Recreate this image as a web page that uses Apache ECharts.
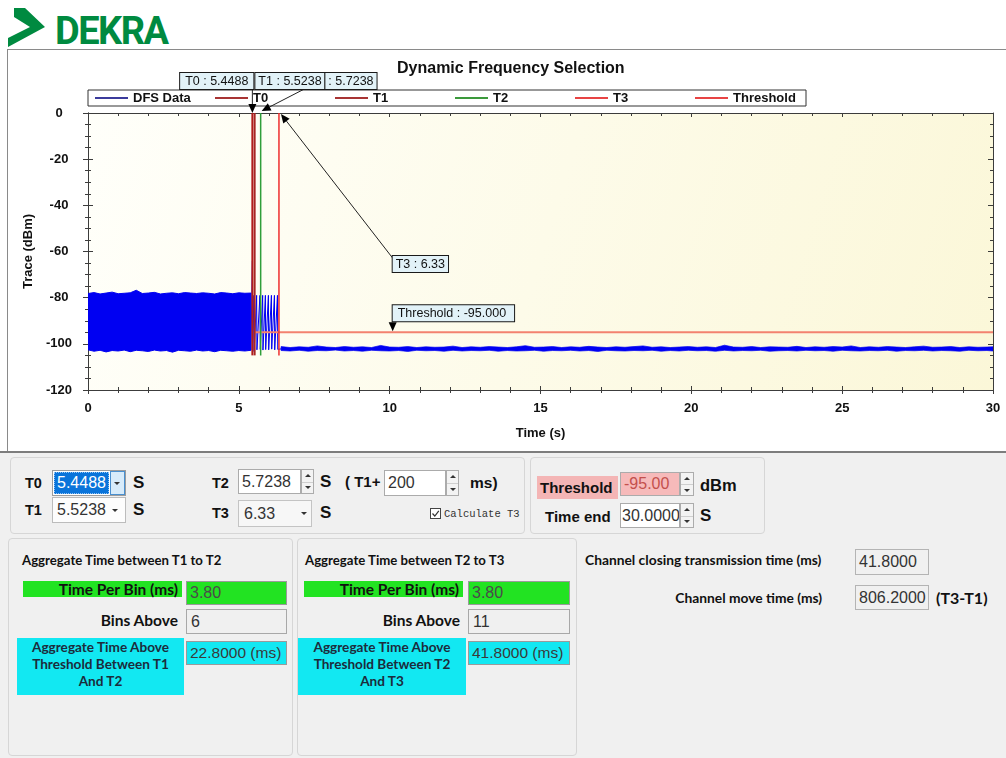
<!DOCTYPE html>
<html><head><meta charset="utf-8">
<script src="https://cdn.jsdelivr.net/npm/echarts@6.0.0/dist/echarts.min.js"></script>
<style>
html,body{margin:0;padding:0;width:1006px;height:758px;overflow:hidden;background:#fff;}
.abs{position:absolute;}
</style></head>
<body>
<svg class="abs" style="left:0;top:0" width="220" height="49">
  <polygon points="14,8 25,8 45,27 8,47 8,38 30,27 14,17" fill="#008a40"/>
  <text x="55" y="44" font-family="Roboto, 'Liberation Sans', sans-serif" font-weight="700" font-size="38" fill="#008a40" letter-spacing="-1.5">DEKRA</text>
</svg>
<div class="abs" style="left:7px;top:49px;width:999px;height:1px;background:#8a8a8a"></div>
<div class="abs" style="left:7px;top:49px;width:1px;height:403px;background:#8a8a8a"></div>
<div id="chart" class="abs" style="left:8px;top:50px;width:998px;height:401px;"></div>
<div class="abs" style="left:0;top:451px;width:1006px;height:2px;background:#7d7d7d"></div>
<div class="abs" style="left:0;top:453px;width:1006px;height:305px;background:#f0f0f0"></div>
<script>
// ---------------- DATA ----------------
const markerNames = ['T0', 'T1', 'T2', 'T3'];
const markerTimes = [5.4488, 5.5238, 5.7238, 6.33];
const markerLabels = ['T0 : 5.4488', 'T1 : 5.5238', ': 5.7238', 'T3 : 6.33'];
const markerSpan = [0, -105];
const thresholdValue = -95;
const thresholdLabel = 'Threshold : -95.000';
const timeEnd = 30;
const annoT3Pos = [10.1, -62];
const annoThrTime = 10.1;

// dense trace before T0: envelope of the noise band
const bandTime = [0, 0.2, 0.4, 0.6, 0.8, 1.0, 1.2, 1.4, 1.6, 1.8,
  2.0, 2.2, 2.4, 2.6, 2.8, 3.0, 3.2, 3.4, 3.6, 3.8,
  4.0, 4.2, 4.4, 4.6, 4.8, 5.0, 5.2, 5.4];
const bandTop = [-78.2, -77.8, -78.4, -78.0, -77.6, -78.3, -78.1, -77.9, -76.8, -78.2,
  -78.0, -77.7, -78.4, -78.1, -77.9, -78.3, -77.8, -78.0, -78.2, -77.9,
  -78.1, -78.4, -77.8, -78.0, -78.3, -77.9, -78.1, -78.0];
const bandBottom = [-102.6, -103.2, -102.8, -103.5, -102.9, -103.1, -102.7, -103.4, -102.8, -103.0,
  -103.3, -102.7, -103.1, -102.9, -103.6, -102.8, -103.0, -103.2, -102.7, -103.1,
  -102.9, -103.4, -102.8, -103.0, -103.2, -102.9, -103.1, -102.8];

// pulses between T0 and T3
const pulseTime = [5.40, 5.45, 5.46, 5.50, 5.51, 5.59, 5.60, 5.70, 5.71, 5.79, 5.80,
  5.88, 5.89, 5.98, 5.99, 6.08, 6.09, 6.18, 6.19, 6.28, 6.29, 6.40];
const pulseValue = [-102.8, -64, -103.5, -79, -103, -79, -102.6, -79, -102.4, -79, -102.7,
  -79, -102.5, -79, -102.6, -79, -102.3, -79, -102.6, -79, -102.4, -102.2];

// noise floor after T3: envelope
const tailTime = [6.4, 6.7, 7.0, 7.3, 7.6, 7.9, 8.2, 8.5, 8.8, 9.1,
  9.4, 9.7, 10.0, 10.3, 10.6, 10.9, 11.2, 11.5, 11.8, 12.1,
  12.4, 12.7, 13.0, 13.3, 13.6, 13.9, 14.2, 14.5, 14.8, 15.1,
  15.4, 15.7, 16.0, 16.3, 16.6, 16.9, 17.2, 17.5, 17.8, 18.1,
  18.4, 18.7, 19.0, 19.3, 19.6, 19.9, 20.2, 20.5, 20.8, 21.1,
  21.4, 21.7, 22.0, 22.3, 22.6, 22.9, 23.2, 23.5, 23.8, 24.1,
  24.4, 24.7, 25.0, 25.3, 25.6, 25.9, 26.2, 26.5, 26.8, 27.1,
  27.4, 27.7, 28.0, 28.3, 28.6, 28.9, 29.2, 29.5, 29.8, 30.0];
const tailTop = [-101.2, -101.6, -101.3, -101.5, -100.9, -101.4, -101.6, -101.2, -101.5, -101.3,
  -101.6, -100.7, -101.4, -101.5, -101.2, -101.6, -101.3, -101.5, -101.4, -101.0,
  -101.6, -101.3, -101.5, -101.2, -101.4, -101.6, -101.3, -100.8, -101.5, -101.4,
  -101.2, -101.6, -101.3, -101.5, -101.1, -101.4, -101.6, -101.3, -101.5, -101.2,
  -100.9, -101.5, -101.3, -101.6, -101.4, -101.2, -101.5, -101.3, -101.6, -100.6,
  -101.4, -101.5, -101.2, -101.6, -101.3, -101.4, -101.5, -101.1, -101.6, -101.3,
  -101.5, -101.2, -101.4, -100.9, -101.6, -101.3, -101.5, -101.2, -101.4, -101.6,
  -101.3, -101.0, -101.5, -101.4, -101.2, -101.6, -101.3, -101.5, -101.4, -101.3];
const tailBottom = [-102.9, -103.1, -102.8, -103.2, -102.9, -103.0, -102.7, -103.1, -102.9, -103.2,
  -102.8, -103.0, -103.1, -102.9, -103.3, -102.8, -103.0, -102.9, -103.2, -102.8,
  -103.1, -102.9, -103.0, -102.8, -103.2, -102.9, -103.1, -103.0, -102.8, -103.2,
  -102.9, -103.0, -102.8, -103.1, -102.9, -103.3, -102.8, -103.0, -103.1, -102.9,
  -103.0, -102.8, -103.2, -102.9, -103.1, -102.8, -103.0, -102.9, -103.2, -102.8,
  -103.1, -102.9, -103.0, -102.8, -103.2, -103.0, -102.9, -103.1, -102.8, -103.0,
  -102.9, -103.2, -102.8, -103.0, -103.1, -102.9, -103.0, -102.8, -103.2, -102.9,
  -103.0, -102.8, -103.1, -102.9, -103.0, -103.2, -102.8, -103.0, -102.9, -103.1];

// panel values
const timePerBin = ['3.80', '3.80'];
const binsAbove = ['6', '11'];
const aggTime = ['22.8000 (ms)', '41.8000 (ms)'];
const closingTime = '41.8000';
const moveTime = '806.2000';
const t1Plus = '200';
const thresholdField = '-95.00';
const timeEndField = '30.0000';

// ---------------- STYLE ----------------
const ARIAL = '"Liberation Sans", Arial, sans-serif';
const LATO = 'Lato, "Open Sans", sans-serif';
const markerColors = ['#b01c1c', '#a82424', '#2f9e3a', '#ee2e2e'];
const markerWidths = [2, 2, 1.5, 1.5];
const legendColors = {'DFS Data': '#3b3b9c', 'T0': '#a83434', 'T1': '#a83434', 'T2': '#3c9a3c', 'T3': '#e84444', 'Threshold': '#e84444'};
const BLUE = '#0000f2';
const AX = '#3c3c3c';

function pairs(xs, ys) { return xs.map((x, i) => [x, ys[i]]); }

const axisFont = {fontFamily: ARIAL, fontWeight: 'bold', fontSize: 13, color: '#111'};
function mkX(position, inside, labels) {
  return {
    type: 'value', min: 0, max: timeEnd, interval: 5, position: position,
    splitLine: {show: false},
    axisLine: {show: true, onZero: false, lineStyle: {color: AX, width: 1}},
    axisTick: {show: true, inside: inside, length: 4, lineStyle: {color: AX}},
    minorTick: {show: true, splitNumber: 5, length: 3, lineStyle: {color: AX}},
    axisLabel: Object.assign({show: labels, margin: 12}, axisFont),
    name: labels ? 'Time (s)' : '', nameLocation: 'middle', nameGap: 37,
    nameTextStyle: axisFont
  };
}
function mkY(position, inside, labels) {
  return {
    type: 'value', min: -120, max: 0, interval: 20, position: position,
    splitLine: {show: false},
    axisLine: {show: true, onZero: false, lineStyle: {color: AX, width: 1}},
    axisTick: {show: true, inside: inside, length: 5, lineStyle: {color: AX}},
    minorTick: {show: true, splitNumber: 4, length: 3, lineStyle: {color: AX}},
    axisLabel: Object.assign({show: labels, margin: 29, align: 'center'}, axisFont),
    name: labels ? 'Trace (dBm)' : '', nameLocation: 'middle', nameGap: 52,
    nameTextStyle: axisFont
  };
}

function bandSeries(name, times, top, bottom, strokeW) {
  return {
    type: 'custom', name: name, xAxisIndex: 0, yAxisIndex: 0, silent: true, animation: false, z: 2, clip: true,
    data: times.map((t, i) => [t, top[i], bottom[i]]),
    encode: {x: 0, y: [1, 2]},
    renderItem: function (params, api) {
      if (params.dataIndex !== 0) return null;
      const pts = [];
      for (let i = 0; i < times.length; i++) pts.push(api.coord([times[i], top[i]]));
      for (let i = times.length - 1; i >= 0; i--) pts.push(api.coord([times[i], bottom[i]]));
      return {type: 'polygon', shape: {points: pts}, style: {fill: BLUE, stroke: BLUE, lineWidth: strokeW}};
    }
  };
}

const chart = echarts.init(document.getElementById('chart'));
const lineBase = {type: 'line', symbol: 'none', silent: true, animation: false, xAxisIndex: 0, yAxisIndex: 0};
const series = [
  Object.assign({}, lineBase, {name: 'DFS Data', data: pairs(pulseTime, pulseValue), lineStyle: {color: BLUE, width: 1}, itemStyle: {color: BLUE}, z: 3}),
  bandSeries('DFS band before T0', bandTime, bandTop, bandBottom, 1),
  bandSeries('DFS band after T3', tailTime, tailTop, tailBottom, 0.7)
];
markerNames.forEach((n, i) => {
  series.push(Object.assign({}, lineBase, {
    name: n, data: [[markerTimes[i], markerSpan[0]], [markerTimes[i], markerSpan[1]]],
    lineStyle: {color: markerColors[i], width: markerWidths[i]}, itemStyle: {color: markerColors[i]}, z: 4
  }));
});
series.push(Object.assign({}, lineBase, {
  name: 'Threshold', data: [[markerTimes[1], thresholdValue], [timeEnd, thresholdValue]],
  lineStyle: {color: '#f3826f', width: 2}, itemStyle: {color: '#f3826f'}, z: 3
}));

const legendNames = ['DFS Data'].concat(markerNames, ['Threshold']);
chart.setOption({
  animation: false,
  title: {text: 'Dynamic Frequency Selection', left: 389, top: 11, padding: 0,
    textStyle: {fontFamily: ARIAL, fontWeight: 'bold', fontSize: 16, color: '#111'}},
  legend: {
    left: 80, top: 40, orient: 'horizontal',
    data: legendNames.map(n => ({name: n, icon: 'rect', itemStyle: {color: legendColors[n]}})),
    itemWidth: 33, itemHeight: 2, itemGap: 10,
    padding: [1, 1, 1, 7],
    backgroundColor: '#fff', borderColor: '#333', borderWidth: 1, borderRadius: 0,
    textStyle: {fontFamily: ARIAL, fontWeight: 'bold', fontSize: 13, color: '#111', width: 72, lineHeight: 14},
    selectedMode: false
  },
  grid: {left: 80, top: 63, right: 13, bottom: 61, show: true, borderWidth: 0,
    backgroundColor: new echarts.graphic.LinearGradient(0, 0, 1, 1, [{offset: 0, color: '#fffffa'}, {offset: 1, color: '#fbf7d8'}])},
  xAxis: [mkX('bottom', false, true), mkX('bottom', true, false), mkX('top', true, false)],
  yAxis: [mkY('left', false, true), mkY('left', true, false), mkY('right', true, false)],
  series: series
});

function drawAnnotations() {
  const P = (t, v) => chart.convertToPixel({xAxisIndex: 0, yAxisIndex: 0}, [t, v]);
  const els = [];
  const font = '12.5px "Liberation Sans", Arial, sans-serif';
  const box = (x, y, text, align, valign, pad) => ({type: 'text', x: x, y: y, z: 50,
    style: {text: text, font: font, fill: '#111', backgroundColor: '#e2f2f8', borderColor: '#1a1a1a', borderWidth: 1,
      padding: pad || [2, 3, 1, 3], align: align, verticalAlign: valign}});
  const arrow = (fx, fy, tx, ty) => {
    const dx = tx - fx, dy = ty - fy, L = Math.hypot(dx, dy), ux = dx / L, uy = dy / L, hl = 9, hw = 4;
    const bx = tx - ux * hl, by = ty - uy * hl;
    els.push({type: 'line', z: 49, shape: {x1: fx, y1: fy, x2: bx, y2: by}, style: {stroke: '#222', lineWidth: 1}});
    els.push({type: 'polygon', z: 49, shape: {points: [[tx, ty], [bx - uy * hw, by + ux * hw], [bx + uy * hw, by - ux * hw]]}, style: {fill: '#000'}});
  };
  const a0 = P(markerTimes[0], markerSpan[0]);
  const topY = a0[1] - 24;
  arrow(a0[0], topY, a0[0], a0[1]);
  els.push(box(a0[0] + 1, topY, markerLabels[0], 'right', 'bottom', [2, 5, 1, 5]));
  els.push(box(a0[0] + 3, topY, markerLabels[1], 'left', 'bottom'));
  els.push(box(a0[0] + 73, topY, markerLabels[2], 'left', 'bottom'));
  const a2 = P(markerTimes[2], markerSpan[0]);
  arrow(a0[0] + 52, topY, a2[0] + 1, a2[1] - 2);
  const a3 = P(markerTimes[3], markerSpan[0]);
  const l3 = P(annoT3Pos[0], annoT3Pos[1]);
  arrow(l3[0], l3[1] + 2, a3[0] + 2, a3[1] + 1);
  els.push(box(l3[0], l3[1], markerLabels[3], 'left', 'top'));
  const lt = P(annoThrTime, thresholdValue);
  arrow(lt[0], lt[1] - 11, lt[0], lt[1] - 1);
  els.push(box(lt[0], lt[1] - 11, thresholdLabel, 'left', 'bottom', [2, 8, 1, 5]));
  chart.setOption({graphic: {elements: els}});
}
drawAnnotations();

// ---------------- CONTROL PANEL (HTML) ----------------
const B = document.body;
function el(css, html) {
  const d = document.createElement('div');
  d.style.cssText = 'position:absolute;' + css;
  if (html != null) d.innerHTML = html;
  B.appendChild(d); return d;
}
function txt(x, yc, s, size, o) {
  o = o || {};
  return el(`left:${x}px;top:${yc - 12}px;height:24px;line-height:24px;white-space:nowrap;font-family:${o.fam || ARIAL};font-size:${size}px;font-weight:${o.w || 700};color:${o.c || '#111'};`, s);
}
function txtR(xr, yc, s, size, o) {
  o = o || {};
  return el(`left:${xr - 500}px;width:500px;text-align:right;top:${yc - 12}px;height:24px;line-height:24px;white-space:nowrap;font-family:${o.fam || ARIAL};font-size:${size}px;font-weight:${o.w || 700};color:${o.c || '#111'};`, s);
}
function field(x, y, w, h, s, o) {
  o = o || {};
  return el(`left:${x}px;top:${y}px;width:${w}px;height:${h}px;box-sizing:border-box;border:1px solid ${o.bc || '#ababab'};background:${o.bg || '#fff'};overflow:hidden;white-space:nowrap;font-family:${ARIAL};font-size:${o.fs || 16}px;color:${o.c || '#333'};line-height:${h - 2}px;padding-left:${o.pl || 3}px;`, s);
}
function spin(x, y, w, h, bg) {
  el(`left:${x}px;top:${y}px;width:${w}px;height:${h}px;box-sizing:border-box;border:1px solid #acacac;background:${bg || '#f3f3f3'};`);
  el(`left:${x + 1}px;top:${y + Math.round(h / 2)}px;width:${w - 2}px;height:1px;background:#cfcfcf`);
  const cx = x + w / 2;
  el(`left:${cx - 3}px;top:${y + h / 4 - 1.5}px;width:0;height:0;border-left:3px solid transparent;border-right:3px solid transparent;border-bottom:3px solid #333;`);
  el(`left:${cx - 3}px;top:${y + 3 * h / 4 - 1.5}px;width:0;height:0;border-left:3px solid transparent;border-right:3px solid transparent;border-top:3px solid #333;`);
}
function downTri(cx, cy) {
  el(`left:${cx - 3.5}px;top:${cy - 1.5}px;width:0;height:0;border-left:3.5px solid transparent;border-right:3.5px solid transparent;border-top:3.5px solid #333;`);
}
function group(x, y, w, h) {
  el(`left:${x}px;top:${y}px;width:${w}px;height:${h}px;box-sizing:border-box;border:1px solid #d6d6d6;border-radius:4px;`);
}
const GREEN = '#22e322', CYAN = '#12e8f2', PINK = '#f4b5b5';

// Box A
group(10, 457, 515, 77);
txt(25, 483, markerNames[0], 14.5);
field(52, 470, 74, 26, '', {bc: '#9c9c9c'});
el(`left:54px;top:472px;width:55px;height:22px;box-sizing:border-box;background:#0a74da;color:#fff;font-family:${ARIAL};font-size:16px;line-height:20px;padding-left:2px;border:1px dotted #8fc3f5;`, markerTimes[0].toFixed(4));
el('left:110px;top:471px;width:15px;height:24px;box-sizing:border-box;background:#d7ebfa;border:1px solid #4a90d0;');
downTri(117.5, 483);
txt(133, 483, 'S', 17);
txt(25, 510, markerNames[1], 14.5);
field(52, 497, 74, 26, markerTimes[1].toFixed(4), {bc: '#bcbcbc', bg: '#fdfdfd', pl: 4});
downTri(115.5, 510);
txt(133, 510, 'S', 17);
txt(212, 483, markerNames[2], 14.5);
field(238, 469, 63, 25, markerTimes[2].toFixed(4));
spin(301, 469, 13, 25);
txt(320, 482, 'S', 17);
txt(345, 482, '( T1+', 15);
field(384, 470, 62, 26, t1Plus);
spin(446, 470, 13, 26);
txt(470, 483, 'ms)', 15.5);
txt(212, 513, markerNames[3], 14.5);
field(238, 500, 74, 27, String(markerTimes[3]), {bg: '#f7f7f7', bc: '#c4c4c4', pl: 5});
downTri(304, 513.5);
txt(320, 513, 'S', 17);
el('left:430px;top:508px;width:11px;height:11px;box-sizing:border-box;border:1px solid #444;background:#fff;',
  '<svg width="9" height="9" style="position:absolute;left:0;top:0"><polyline points="1.5,4.5 3.8,7 7.8,1.8" fill="none" stroke="#333" stroke-width="1.2"/></svg>');
txt(444, 514, 'Calculate T3', 10.5, {fam: '"Liberation Mono", "DejaVu Sans Mono", monospace', w: 400, c: '#333'});

// Box B
group(530, 457, 235, 77);
el(`left:537px;top:476px;width:81px;height:23px;background:${PINK};`);
txt(540, 487.5, 'Threshold', 15);
field(620, 472, 60, 24, thresholdField, {bg: '#f6baba', c: '#c4504c'});
spin(680, 472, 14, 24);
txt(700, 485, 'dBm', 16.5);
txt(545, 517, 'Time end', 15);
field(620, 503, 60, 25, timeEndField, {pl: 1});
spin(680, 503, 14, 25);
txt(700, 516, 'S', 17);

// Box C and D
function aggGroup(gx, gw, lblL, lblW, cyL, cyW, fx, fw, pair, idx) {
  group(gx, 538, gw, 218);
  txt(gx + (idx === 0 ? 14 : 8), 559.5, 'Aggregate Time between ' + pair[0] + ' to ' + pair[1], 13.2, {fam: LATO});
  el(`left:${lblL}px;top:581px;width:${lblW}px;height:16px;background:${GREEN};`);
  txtR(lblL + lblW - 4, 589, 'Time Per Bin (ms)', 15.5, {fam: LATO});
  field(fx, 581, fw, 24, timePerBin[idx], {bg: GREEN, c: '#4a4a4a', bc: '#9a9a9a'});
  txtR(fx - 8, 620, 'Bins Above', 15.5, {fam: LATO});
  field(fx, 609, fw, 25, binsAbove[idx], {bg: '#f0f0f0', bc: '#a8a8a8', pl: 4});
  el(`left:${cyL}px;top:638px;width:${cyW}px;height:57px;background:${CYAN};text-align:center;font-family:${LATO};font-weight:700;font-size:13.6px;line-height:17px;color:#1c2c3c;padding-top:1px;box-sizing:border-box;white-space:nowrap;`,
    'Aggregate Time Above<br>Threshold Between ' + pair[0] + '<br>And ' + pair[1]);
  field(fx, 641, fw, 24, aggTime[idx], {bg: CYAN, c: '#3a3a3a', bc: '#9a9a9a', fs: 15.5});
}
aggGroup(8, 285, 23, 159, 17, 167, 186, 101, ['T1', 'T2'], 0);
aggGroup(297, 280, 304, 159, 298, 168, 468, 102, ['T2', 'T3'], 1);

// Right area
txt(585, 560, 'Channel closing transmission time (ms)', 13.8, {fam: LATO});
field(855, 549, 74, 26, closingTime, {bg: '#f0f0f0', bc: '#b4b4b4'});
txtR(822, 598, 'Channel move time (ms)', 13.8, {fam: LATO});
field(855, 585, 74, 25, moveTime, {bg: '#f0f0f0', bc: '#b4b4b4'});
txt(936, 598, '(T3-T1)', 16, {fam: LATO});
</script>
</body></html>
